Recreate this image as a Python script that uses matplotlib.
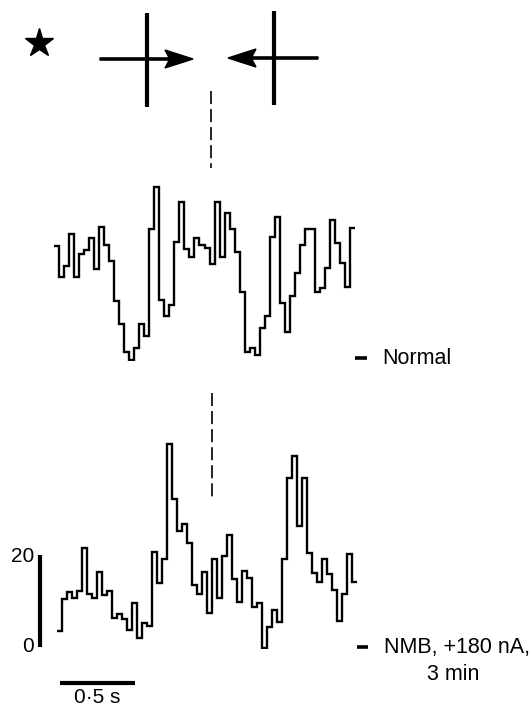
import numpy as np
import matplotlib
matplotlib.use("Agg")
import matplotlib.pyplot as plt

plt.rcParams['font.family'] = ['Liberation Sans', 'DejaVu Sans']
plt.rcParams['lines.scale_dashes'] = False

# ---- data (spike counts per bin, 60 bins over 2 s) ----
bin_width_s = 2.0 / 60
normal_counts = [25.0, 18.3, 20.7, 27.6, 18.3, 23.3, 24.1, 26.7, 20.0, 29.1,
                 25.2, 21.7, 13.0, 8.0, 2.0, 0.2, 2.8, 8.0, 5.4, 28.7,
                 37.8, 13.3, 9.8, 12.2, 25.9, 34.6, 24.3, 22.6, 26.7, 25.2,
                 24.6, 21.1, 34.6, 22.6, 32.2, 28.7, 23.7, 15.0, 2.0, 2.8,
                 1.3, 7.2, 9.8, 27.0, 31.3, 12.6, 6.3, 14.1, 19.1, 25.2,
                 28.7, 28.7, 15.0, 15.9, 20.2, 30.7, 25.7, 21.3, 16.1, 28.9]
nmb_counts = [3.9, 10.9, 12.4, 11.1, 12.6, 22.0, 12.0, 11.1, 16.7, 11.7,
              12.6, 6.7, 7.6, 6.5, 4.1, 10.0, 2.4, 5.7, 5.0, 21.1,
              14.3, 19.6, 44.6, 32.6, 25.7, 27.2, 23.0, 13.9, 12.0, 16.7,
              7.8, 19.6, 11.1, 20.2, 24.8, 15.2, 10.2, 17.0, 15.4, 9.1,
              10.0, 0.2, 4.8, 8.5, 5.9, 19.6, 37.2, 42.0, 26.7, 37.2,
              20.9, 16.5, 14.6, 19.6, 16.3, 12.8, 6.1, 12.0, 20.7, 14.6]
label_normal = "Normal"
label_nmb = "NMB, +180 nA,\n3 min"
scale_counts = 20
scale_time = 0.5

W, H = 531, 706
fig = plt.figure(figsize=(W / 100, H / 100), dpi=100)
fig.patch.set_facecolor('white')

def px_axes(x0, x1, y_zero, y_top):
    return fig.add_axes([x0 / W, (H - y_zero) / H, (x1 - x0) / W, (y_zero - y_top) / H])

edges = np.arange(len(normal_counts) + 1) * bin_width_s

# top trace
ax1 = px_axes(54, 355, 361, 177)
ax1.stairs(normal_counts, edges, baseline=None, color='black', lw=1.7)
ax1.set_xlim(0, 2)
ax1.set_ylim(0, 40)
ax1.axis('off')

# bottom trace
ax2 = px_axes(57.3, 357.3, 649, 442)
ax2.stairs(nmb_counts, edges, baseline=None, color='black', lw=1.7)
ax2.set_xlim(0, 2)
ax2.set_ylim(0, 45)
ax2.axis('off')

# scale bars on the bottom axes
ax2.plot([-0.115, -0.115], [0.5, 0.5 + scale_counts], color='black', lw=3,
         solid_capstyle='butt', clip_on=False)
ax2.text(-0.155, 0.5 + scale_counts - 0.5, "20", ha='right', va='center',
         fontsize=15, clip_on=False)
ax2.text(-0.155, 0.6, "0", ha='right', va='center', fontsize=15, clip_on=False)
ax2.plot([0.018, 0.018 + scale_time], [-7.4, -7.4], color='black', lw=3,
         solid_capstyle='butt', clip_on=False)
ax2.text(0.018 + scale_time / 2, -10.5, "0\u00b75 s", ha='center', va='center',
         fontsize=15, clip_on=False)

# overlay for stimulus diagram and labels (pixel coordinates)
ov = fig.add_axes([0, 0, 1, 1], facecolor='none')
ov.set_xlim(0, W)
ov.set_ylim(H, 0)
ov.axis('off')

ov.plot([38.5], [43], marker='*', ms=21, color='black')

# left cross with arrow pointing right
ov.plot([147, 147], [13, 107], color='black', lw=3, solid_capstyle='butt')
ov.arrow(100, 59, 93, 0, width=2.2, head_width=18, head_length=28,
         length_includes_head=True, color='black', overhang=0.15)
# right cross with arrow pointing left
ov.plot([274, 274], [11, 105], color='black', lw=3, solid_capstyle='butt')
ov.arrow(318, 58, -90, 0, width=2.2, head_width=18, head_length=28,
         length_includes_head=True, color='black', overhang=0.15)

# dashed vertical markers
ov.plot([211, 211], [91, 168], color='black', lw=1.2, ls=(0, (9.4, 3.6)))
ov.plot([212, 212], [393, 500], color='black', lw=1.2, ls=(0, (9.4, 3.6)))

# trace labels
ov.plot([355, 367], [358, 358], color='black', lw=2.6, solid_capstyle='butt')
ov.text(382, 358, label_normal, ha='left', va='center', fontsize=15.5)
ov.plot([357, 368], [647, 647], color='black', lw=2.6, solid_capstyle='butt')
ov.text(384, 647, label_nmb.split("\n")[0], ha='left', va='center', fontsize=15.5)
ov.text(453, 675, label_nmb.split("\n")[1], ha='center', va='center', fontsize=15.5)

fig.savefig("out.png", dpi=100, facecolor='white')
